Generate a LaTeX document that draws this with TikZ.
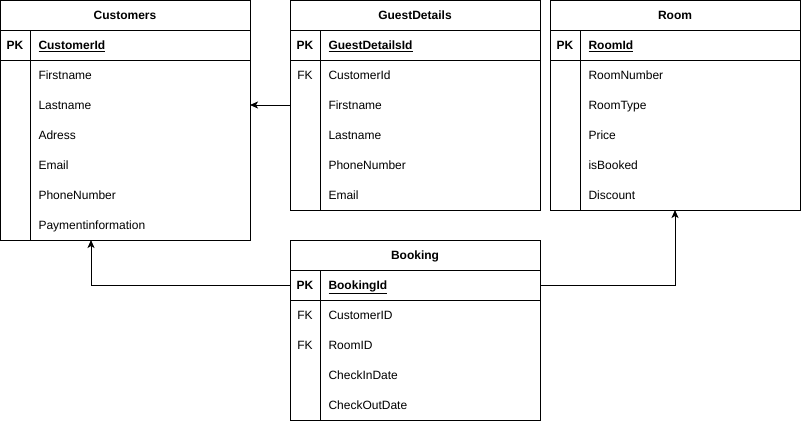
\documentclass[tikz,border=0pt]{standalone}
\usepackage{fontspec}
\setmainfont{Liberation Sans}
\usetikzlibrary{arrows.meta}

\begin{document}
\begin{tikzpicture}[x=1pt, y=-1pt, line width=1pt, font=\fontsize{12}{14}\selectfont]
 \tikzset{tablebox/.style={draw, minimum width=250pt, inner sep=0pt, outer sep=0pt, anchor=north west},
  rowbox/.style={tablebox, minimum height=30pt, text height=8.6pt, text depth=0.2pt},
  field/.style={anchor=west, inner sep=0pt, text height=8.6pt, text depth=0.2pt},
  key/.style={inner sep=0pt, text height=8.6pt, text depth=0.2pt},
  fkarrow/.style={->,>={Stealth[length=8pt,width=7pt,inset=2pt]}}}
 \useasboundingbox (0,0) rectangle (801,421);

 % Customers
 \node[tablebox, minimum height=240pt] (Customers) at (0,0) {};
 \node[rowbox] (CustomersHead) at (0,0) {\textbf{Customers}};
 \node[rowbox] (CustomersPK) at (0,30) {};
 \draw (30,30) -- (30,240);
 \node[key] at (15,45) {\textbf{PK}};
 \node[field] at (38,45) {\textbf{\underline{CustomerId}}};
 \foreach \f [count=\i] in {Firstname, Lastname, Adress, Email, PhoneNumber, Paymentinformation}
  \node[field] at (38,45+30*\i) {\f};

 % GuestDetails
 \node[tablebox, minimum height=210pt] (GuestDetails) at (290,0) {};
 \node[rowbox] (GuestDetailsHead) at (290,0) {\textbf{GuestDetails}};
 \node[rowbox] (GuestDetailsPK) at (290,30) {};
 \draw (320,30) -- (320,210);
 \node[key] at (305,45) {\textbf{PK}};
 \node[key] at (305,75) {FK};
 \node[field] at (328,45) {\textbf{\underline{GuestDetailsId}}};
 \foreach \f [count=\i] in {CustomerId, Firstname, Lastname, PhoneNumber, Email}
  \node[field] at (328,45+30*\i) {\f};

 % Room
 \node[tablebox, minimum height=210pt] (Room) at (550,0) {};
 \node[rowbox] (RoomHead) at (550,0) {\textbf{Room}};
 \node[rowbox] (RoomPK) at (550,30) {};
 \draw (580,30) -- (580,210);
 \node[key] at (565,45) {\textbf{PK}};
 \node[field] at (588,45) {\textbf{\underline{RoomId}}};
 \foreach \f [count=\i] in {RoomNumber, RoomType, Price, isBooked, Discount}
  \node[field] at (588,45+30*\i) {\f};

 % Booking
 \node[tablebox, minimum height=180pt] (Booking) at (290,240) {};
 \node[rowbox] (BookingHead) at (290,240) {\textbf{Booking}};
 \node[rowbox] (BookingPK) at (290,270) {};
 \draw (320,270) -- (320,420);
 \node[key] at (305,285) {\textbf{PK}};
 \node[key] at (305,315) {FK};
 \node[key] at (305,345) {FK};
 \node[field] at (328,285) {\textbf{\underline{BookingId}}};
 \foreach \f [count=\i] in {CustomerID, RoomID, CheckInDate, CheckOutDate}
  \node[field] at (328,285+30*\i) {\f};

 % relations
 \coordinate (CustomersIn) at (91,240);
 \draw[fkarrow] (GuestDetails.west) -- (GuestDetails.west -| Customers.east);
 \draw[fkarrow] (BookingPK.west) -| (CustomersIn);
 \draw[fkarrow] (BookingPK.east) -| (Room.south);
\end{tikzpicture}
\end{document}
